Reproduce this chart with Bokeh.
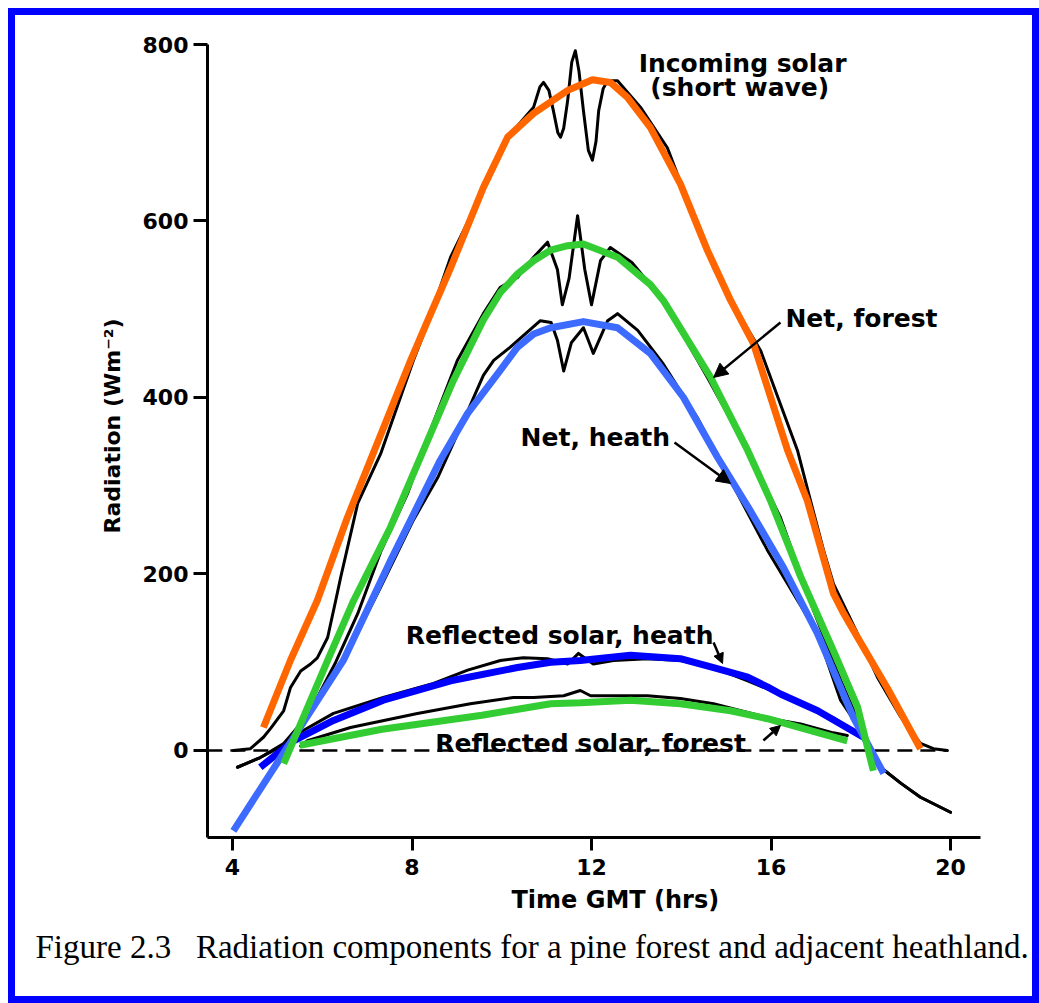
from bokeh.plotting import figure
from bokeh.models import Range1d, FixedTicker, Label, Arrow, NormalHead, Title
from bokeh.embed import file_html
from bokeh.resources import INLINE

# ---------------- data ----------------
x_ticks = [4, 8, 12, 16, 20]
y_ticks = [0, 200, 400, 600, 800]

# measured (black) traces
incoming_t = [4.02, 4.40, 4.69, 4.85, 5.14, 5.29, 5.52, 5.74, 5.89, 6.12, 6.30, 6.41, 6.79, 7.30, 8.03,
              8.35, 8.86, 9.59, 10.13, 10.71, 10.85, 10.93, 11.05, 11.15, 11.25, 11.31, 11.38, 11.47,
              11.56, 11.64, 11.72, 11.82, 11.93, 12.02, 12.10, 12.16, 12.26, 12.36, 12.58, 13.09,
              13.69, 14.14, 14.72, 15.16, 15.77, 16.59, 16.88, 17.17, 17.39,
              17.93, 18.37, 18.89, 19.33, 19.62, 19.93]
incoming_v = [0, 2, 15, 25, 45, 71, 90, 98, 105, 128, 170, 196, 280, 336, 442,
              484, 559, 635, 695, 729, 752, 757, 748, 725, 700, 695, 705, 737,
              780, 793, 770, 725, 680, 669, 690, 725, 750, 759, 759, 729,
              683, 623, 547, 505, 453, 340, 283, 227, 189,
              132, 83, 38, 8, 2, 0]

net_forest_t = [4.11, 4.62, 5.14, 5.45, 5.89, 6.30, 6.79, 7.30, 7.90, 8.35, 9.01, 9.59, 9.97, 10.35, 10.71,
                11.02, 11.24, 11.35, 11.50, 11.69, 11.85, 12.00, 12.20, 12.42, 12.90, 13.60, 14.58,
                15.48, 16.21, 16.90, 17.55, 18.06, 18.44, 18.89, 19.33, 20.00]
net_forest_v = [-19, -8, 8, 26, 60, 100, 155, 225, 291, 355, 442, 495, 525, 536, 559,
                576, 545, 505, 535, 606, 545, 505, 555, 570, 553, 510, 423,
                340, 264, 165, 80, 20, -19, -37, -53, -70]

net_heath_t = [4.11, 4.62, 5.14, 5.74, 6.56, 7.30, 8.03, 8.57, 9.08, 9.59, 9.82, 10.19, 10.86, 11.10,
               11.24, 11.38, 11.55, 11.82, 11.95, 12.04, 12.36, 12.58, 13.03, 13.60, 14.36, 15.16,
               15.92, 17.04, 17.55, 18.15, 18.44, 18.89, 19.33, 20.00]
net_heath_v = [-19, -8, 6, 45, 110, 185, 261, 309, 366, 425, 442, 457, 487, 485,
               465, 430, 462, 479, 462, 450, 487, 495, 476, 438, 377, 300,
               227, 132, 57, 11, -19, -37, -53, -70]

refl_heath_t = [5.29, 5.45, 6.25, 7.36, 8.48, 9.24, 9.97, 10.48, 11.02, 11.47, 11.71, 12.04, 12.49,
                13.25, 13.98, 14.72, 15.48, 16.00, 16.66, 17.39, 17.84, 18.06]
refl_heath_v = [5, 19, 42, 60, 76, 91, 102, 105, 104, 98, 110, 98, 102,
                104, 102, 94, 79, 68, 53, 37, 23, 15]

refl_forest_t = [5.52, 5.67, 6.63, 8.12, 9.30, 10.26, 10.71, 11.38, 11.75, 11.98, 12.49, 13.25, 13.98,
                 14.72, 15.48, 16.21, 16.66, 17.39, 17.70]
refl_forest_v = [5, 11, 26, 42, 53, 60, 60, 62, 68, 62, 62, 62, 59,
                 53, 43, 34, 30, 20, 17]

# fitted (coloured) curves
fit_incoming_t = [4.69, 5.29, 5.89, 6.56, 7.97, 8.35, 8.86, 9.59, 10.13, 10.71, 11.47, 12.02, 12.42,
                  12.80, 13.31, 13.98, 14.58, 15.10, 15.61, 16.37, 16.81, 17.39, 17.60, 17.93, 18.60, 19.33]
fit_incoming_v = [26, 102, 170, 264, 442, 487, 547, 638, 695, 722, 748, 760, 757,
                  740, 706, 642, 567, 510, 461, 340, 283, 178, 157, 128, 70, 2]

fit_net_forest_t = [5.14, 6.12, 6.70, 7.52, 8.92, 9.24, 9.59, 9.97, 10.35, 10.71, 11.09, 11.47, 11.82,
                    12.58, 13.31, 13.60, 14.65, 15.48, 15.99, 16.43, 16.66, 17.39, 17.93, 18.28]
fit_net_forest_v = [-15, 102, 170, 253, 419, 452, 488, 519, 540, 555, 567, 572, 574,
                    559, 528, 510, 423, 340, 283, 227, 197, 113, 49, -23]

fit_net_heath_t = [4.02, 6.47, 7.52, 8.63, 9.24, 9.97, 10.35, 10.71, 11.09, 11.82, 12.58, 13.31, 14.05,
                   14.81, 15.50, 16.28, 17.04, 17.84, 18.51]
fit_net_heath_v = [-91, 102, 215, 329, 382, 431, 457, 472, 479, 486, 479, 450, 400,
                   332, 275, 207, 132, 37, -26]

fit_refl_heath_t = [4.62, 5.36, 6.25, 7.36, 8.86, 10.35, 11.09, 11.75, 12.87, 13.98, 14.72, 15.48, 15.92,
                    16.21, 17.04, 18.06]
fit_refl_heath_v = [-19, 11, 34, 57, 79, 94, 100, 102, 108, 104, 94, 83, 72,
                    64, 45, 15]

fit_refl_forest_t = [5.50, 7.33, 9.56, 11.09, 11.75, 12.87, 13.98, 15.10, 15.92, 16.21, 17.70]
fit_refl_forest_v = [6, 24, 40, 53, 54, 57, 53, 45, 36, 32, 11]

zero_t = [3.44, 19.93]
zero_v = [0, 0]

# ---------------- figure ----------------
FONT = "DejaVu Sans"
p = figure(width=1039, height=1003, output_backend="svg", toolbar_location=None,
           x_range=Range1d(3.443, 20.668), y_range=Range1d(-98.6, 800),
           min_border_left=207, min_border_right=59, min_border_top=44, min_border_bottom=166)
p.background_fill_color = None
p.border_fill_color = None
p.outline_line_color = None
p.grid.grid_line_color = None
# blue frame around the whole picture (drawn by the page behind the transparent canvas)
p.styles = {"box-shadow": "inset 8px 8px 0 0 #ffffff, inset 15px 15px 0 0 #0000ff, "
                          "inset -7px -7px 0 0 #0000ff",
            "background-color": "#ffffff"}

for ax in (p.xaxis, p.yaxis):
    ax.axis_line_width = 3
    ax.axis_line_color = "black"
    ax.major_tick_line_width = 3
    ax.major_tick_in = 0
    ax.minor_tick_line_color = None
    ax.major_label_text_font = FONT
    ax.major_label_text_font_style = "bold"
    ax.major_label_text_font_size = "22px"
    ax.major_label_text_color = "black"

p.xaxis.ticker = FixedTicker(ticks=x_ticks)
p.yaxis.ticker = FixedTicker(ticks=y_ticks)
p.xaxis.major_tick_out = 13
p.yaxis.major_tick_out = 14
p.xaxis.major_label_standoff = 8
p.yaxis.major_label_standoff = 5

# axis titles and caption as side-panel titles (so they can be offset)
p.add_layout(Title(text="Radiation (Wm\u207b\u00b2)", align="left", offset=304, standoff=29,
                   text_font=FONT, text_font_style="bold", text_font_size="22px",
                   text_color="black"), "left")
p.add_layout(Title(text="Time GMT (hrs)", align="left", offset=304, standoff=12,
                   text_font=FONT, text_font_style="bold", text_font_size="24px",
                   text_color="black"), "below")
p.add_layout(Title(text="Figure 2.3\u00a0\u00a0\u00a0Radiation components for a pine forest and adjacent heathland.",
                   align="left", offset=-172, standoff=15,
                   text_font="Liberation Serif", text_font_style="normal", text_font_size="33px",
                   text_color="black"), "below")

# zero line
p.line(zero_t, zero_v, line_color="black", line_width=2.5, line_dash="15 8")

# black measured traces
for t, v in [(incoming_t, incoming_v), (net_forest_t, net_forest_v), (net_heath_t, net_heath_v),
             (refl_heath_t, refl_heath_v), (refl_forest_t, refl_forest_v)]:
    p.line(t, v, line_color="black", line_width=3, line_join="round", line_cap="round")

# coloured fits
p.line(fit_refl_forest_t, fit_refl_forest_v, line_color="#33CC33", line_width=7)
p.line(fit_refl_heath_t, fit_refl_heath_v, line_color="#0000FF", line_width=7, line_join="round")
p.line(fit_net_heath_t, fit_net_heath_v, line_color="#3D6BFF", line_width=7, line_join="round")
p.line(fit_net_forest_t, fit_net_forest_v, line_color="#33CC33", line_width=7, line_join="round")
p.line(fit_incoming_t, fit_incoming_v, line_color="#FF6600", line_width=7, line_join="round")

# annotations
def lab(x, y, text):
    p.add_layout(Label(x=x, y=y, text=text, text_font=FONT, text_font_style="bold",
                       text_font_size="25px", text_color="black", text_baseline="alphabetic"))

lab(13.05, 778.5, "Incoming solar")
lab(13.31, 751, "(short wave)")
lab(16.32, 489.5, "Net, forest")
lab(10.42, 354.7, "Net, heath")
lab(7.86, 130.3, "Reflected solar, heath")
lab(8.52, 7.9, "Reflected solar, forest")

def arrow(x0, y0, x1, y1, size):
    p.add_layout(Arrow(x_start=x0, y_start=y0, x_end=x1, y_end=y1, line_width=2.5, line_color="black",
                       end=NormalHead(size=size, fill_color="black", line_color="black", line_width=1)))

arrow(16.21, 485.0, 14.72, 422.7, 14)
arrow(13.85, 349.0, 15.10, 302.5, 14)
arrow(14.72, 122.4, 14.92, 98.6, 10)
arrow(15.83, 11.3, 16.21, 28.3, 10)

open("out.html", "w").write(file_html(p, INLINE))
